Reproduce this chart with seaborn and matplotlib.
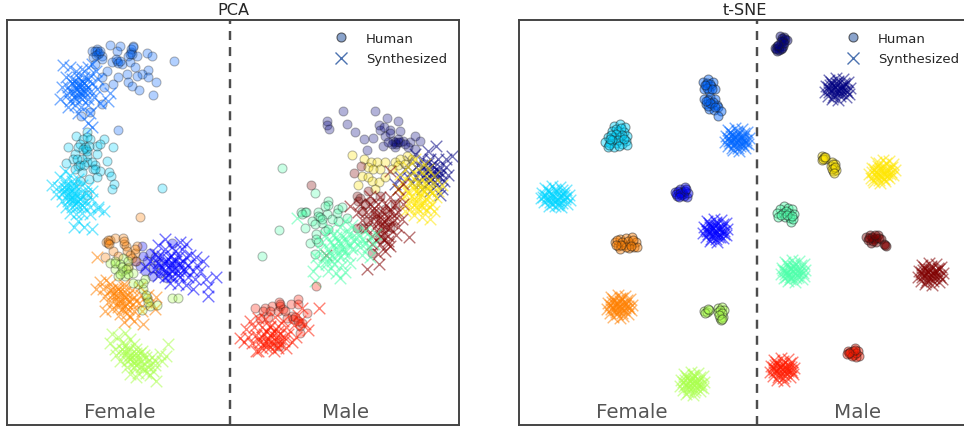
"""
Embeddings of human and synthesized samples (PCA and t-SNE).
Values are read off the picture, in image pixel units, since the axes have no scale.
"""
import matplotlib
matplotlib.use("Agg")
import matplotlib.pyplot as plt
from matplotlib.lines import Line2D
import seaborn as sns

COLORS = {
    "cyan": "#00d5ff", "azure": "#0066ff", "blue": "#0000ff", "orange": "#ff8000",
    "lime": "#aaff4d", "navy": "#000080", "gold": "#ffe600", "maroon": "#800000",
    "green": "#4dffaa", "red": "#ff1a00",
}
ORDER = ["cyan", "azure", "blue", "orange", "lime", "navy", "gold", "maroon", "green", "red"]

# PCA, human
pca_h_cyan = [(87,133),(76,137),(104,140),(68,148),(113,148),(83,140),(80,145),(90,140),(97,147),(100,145),(86,150),(78,148),(75,155),(87,157),(97,155),(73,160),(66,164),(78,167),(87,163),(95,166),(107,162),(75,170),(82,173),(93,170),(100,172),(109,173),(111,177),(89,180),(80,182),(97,178),(114,185),(112,190),(162,189),(87,196),(85,148),(87,152),(83,150),(82,160),(80,166),(84,166),(92,163),(95,170),(89,147),(77,160),(87,138)]
pca_h_azure = [(110,46),(120,47),(133,47),(147,54),(152,57),(174,62),(97,50),(92,52),(98,55),(93,58),(102,57),(117,52),(117,62),(112,63),(122,65),(131,53),(128,57),(137,57),(130,63),(135,68),(148,71),(142,75),(137,77),(148,78),(156,83),(127,75),(118,78),(128,83),(132,87),(139,91),(153,96),(113,85),(104,88),(102,78),(107,72),(95,65),(102,105),(90,113),(81,117),(118,131),(97,52),(99,54),(95,52),(96,56),(100,52),(116,60),(118,64),(120,62),(131,50),(132,55),(133,48),(130,55),(102,60)]
pca_h_blue = [(142,247),(172,244),(150,254),(143,257),(147,262),(140,267),(153,269),(160,274),(152,277),(167,279),(135,262),(145,272),(158,265),(155,258)]
pca_h_orange = [(106,243),(110,241),(115,239),(123,239),(124,245),(126,247),(135,254),(132,259),(105,258),(127,252),(113,252),(118,257),(137,247),(108,244),(140,218),(136,262),(128,268),(108,241),(109,245),(124,242),(135,250),(130,256)]
pca_h_lime = [(115,262),(110,264),(123,259),(128,269),(122,272),(115,270),(125,277),(133,274),(145,280),(143,290),(138,285),(150,307),(157,306),(142,311),(172,299),(178,299),(147,299),(133,284),(120,265),(128,262),(118,277),(115,264),(122,268),(126,270),(120,275),(128,275),(143,284),(146,296),(148,303)]
pca_h_navy = [(343,112),(375,112),(327,122),(327,126),(329,130),(347,125),(355,133),(364,140),(373,139),(367,151),(387,119),(398,122),(379,126),(380,131),(390,131),(400,132),(385,137),(393,142),(398,143),(403,142),(410,143),(415,137),(420,142),(408,148),(395,148),(383,147),(415,150),(396,145),(395,143),(400,143),(392,145),(398,140),(388,143),(405,145),(384,128),(390,134)]
pca_h_gold = [(352,156),(364,160),(371,163),(377,163),(385,163),(395,163),(368,168),(380,170),(362,177),(368,178),(358,186),(372,182),(379,183),(373,170),(400,160),(407,157),(392,170),(385,178),(398,166),(375,190),(405,165),(412,160)]
pca_h_maroon = [(311,186),(354,174),(361,167),(357,197),(368,192),(380,197),(358,202),(370,202),(372,254),(363,229),(357,229),(385,210),(375,215),(362,212),(395,205),(368,222),(390,228),(380,240),(360,199),(365,205)]
pca_h_green = [(282,169),(315,194),(328,202),(328,206),(305,213),(301,213),(318,213),(338,210),(279,231),(262,257),(305,229),(310,244),(318,243),(316,235),(315,255),(302,215),(318,217),(327,215),(337,214),(322,224),(328,230),(338,222),(347,219),(342,208),(332,220),(312,222),(325,207),(306,213),(320,218),(322,220),(315,225),(325,232),(316,240)]
pca_h_red = [(255,309),(265,309),(272,307),(279,303),(291,305),(298,300),(298,305),(307,314),(300,334),(279,347),(280,307),(263,312),(292,317),(302,324),(260,319),(293,320),(300,327),(287,319),(278,312),(283,310),(268,318),(316,287),(280,305),(285,312),(295,318),(298,322),(270,312)]

# PCA, synthesized
pca_s_cyan = [(65,172),(70,176),(60,178),(66,182),(72,182),(78,180),(52,186),(58,188),(64,188),(70,188),(76,187),(82,186),(88,188),(56,195),(62,195),(68,195),(74,194),(80,194),(86,194),(92,192),(62,202),(68,202),(74,200),(80,200),(86,202),(92,200),(98,208),(66,208),(72,208),(78,207),(84,208),(90,208),(98,210),(104,212),(70,214),(76,215),(82,214),(90,215),(78,222),(74,228),(84,228),(92,230),(66,190),(70,192),(72,198),(76,196),(68,198),(74,190),(78,202),(72,204),(64,192),(70,200),(76,204),(66,186),(80,198),(74,186),(82,206)]
pca_s_azure = [(63,66),(70,68),(76,72),(82,70),(88,68),(92,65),(66,78),(72,80),(78,78),(84,78),(90,76),(96,72),(62,88),(68,88),(74,86),(80,85),(86,86),(92,84),(98,80),(60,100),(67,96),(73,94),(79,92),(85,94),(91,92),(97,90),(70,102),(76,100),(82,100),(88,100),(94,98),(68,108),(75,106),(81,108),(88,106),(100,104),(108,102),(110,94),(78,114),(90,114),(88,124),(92,128),(72,84),(76,90),(80,88),(84,92),(78,96),(74,98),(82,82),(86,90),(76,82),(80,94),(84,84),(70,92),(78,86),(82,96),(88,80)]
pca_s_blue = [(165,240),(172,248),(180,243),(186,245),(158,246),(165,250),(175,252),(182,250),(190,256),(155,255),(162,257),(170,258),(178,258),(186,258),(196,258),(203,262),(150,262),(158,264),(165,264),(172,264),(180,264),(188,266),(197,266),(145,268),(155,270),(162,270),(170,270),(178,272),(185,272),(193,272),(200,272),(216,278),(158,277),(165,278),(172,277),(180,278),(188,278),(195,280),(206,280),(170,284),(178,285),(186,286),(193,290),(208,288),(208,297),(165,262),(170,266),(174,268),(168,260),(176,262),(162,268),(172,272),(180,268),(166,272),(174,260),(158,258),(184,270),(178,276),(168,276),(183,262)]
pca_s_orange = [(97,258),(100,283),(106,281),(110,285),(96,290),(103,290),(110,291),(117,288),(124,285),(105,297),(112,296),(118,294),(125,293),(132,291),(140,288),(108,303),(114,302),(120,300),(127,300),(134,298),(141,296),(148,296),(156,298),(105,312),(112,310),(118,308),(125,307),(132,306),(139,304),(146,303),(152,305),(120,315),(127,314),(134,312),(142,312),(124,323),(134,322),(143,325),(130,318),(155,310),(118,290),(122,294),(116,298),(124,298),(120,304),(128,296),(112,290),(126,304),(130,302),(122,310),(114,294),(118,304),(128,310),(136,302),(124,288)]
pca_s_lime = [(112,335),(125,334),(118,338),(110,344),(122,344),(130,340),(134,345),(115,350),(122,350),(128,350),(136,350),(142,352),(168,345),(116,356),(124,356),(130,356),(137,356),(144,356),(152,358),(160,355),(120,362),(127,362),(134,362),(141,362),(148,362),(155,362),(166,357),(127,368),(134,368),(141,368),(148,368),(155,366),(162,362),(130,375),(138,374),(146,374),(153,372),(136,378),(156,382),(150,376),(128,352),(132,358),(136,354),(130,360),(134,364),(138,360),(126,346),(124,352),(142,366),(146,358),(128,358),(136,366),(144,370),(140,354),(150,366)]
pca_s_navy = [(428,152),(436,147),(446,160),(452,157),(415,155),(422,160),(430,160),(438,160),(410,162),(418,166),(425,166),(432,166),(440,168),(446,168),(405,170),(412,172),(420,172),(427,172),(434,172),(441,174),(448,176),(400,178),(408,178),(416,178),(423,178),(430,178),(437,180),(444,182),(395,185),(412,184),(420,184),(428,184),(436,186),(442,190),(430,192),(422,190),(440,196),(426,170),(432,174),(436,176),(430,182),(424,176),(438,172),(434,168),(428,164),(440,178),(432,180),(422,168)]
pca_s_gold = [(415,160),(425,165),(408,168),(418,170),(428,170),(400,175),(410,176),(418,177),(426,177),(434,177),(402,183),(410,183),(418,184),(426,184),(434,184),(442,186),(398,190),(406,190),(414,190),(422,190),(430,191),(438,192),(404,197),(412,197),(420,197),(428,197),(436,198),(408,204),(416,204),(424,204),(432,205),(410,210),(418,210),(426,211),(434,212),(414,216),(422,218),(430,220),(405,212),(416,192),(420,194),(424,192),(418,200),(422,186),(426,200),(414,186),(428,188),(412,202),(420,206),(424,208),(416,208),(432,194),(408,194),(430,208)]
pca_s_maroon = [(390,172),(403,185),(398,190),(370,197),(380,198),(390,198),(400,198),(350,207),(360,205),(370,205),(378,205),(386,206),(395,206),(403,205),(358,213),(366,213),(374,213),(382,213),(390,213),(398,213),(362,221),(370,221),(378,221),(386,221),(394,221),(402,220),(366,229),(374,229),(382,229),(390,229),(398,228),(372,237),(380,237),(388,237),(396,236),(409,238),(380,245),(388,245),(390,247),(378,255),(385,252),(379,265),(367,270),(326,256),(372,245),(380,218),(384,222),(388,218),(382,226),(376,217),(386,228),(378,224),(392,224),(384,234),(388,242),(384,240),(380,232),(390,210),(374,209),(394,216)]
pca_s_green = [(297,219),(345,222),(352,226),(340,228),(330,230),(325,236),(333,236),(341,236),(349,235),(357,233),(365,232),(322,243),(330,243),(338,242),(346,243),(354,242),(362,240),(370,238),(376,235),(320,250),(328,250),(336,250),(344,250),(352,250),(360,248),(368,248),(374,245),(316,258),(324,258),(332,257),(340,258),(348,256),(362,256),(370,258),(318,266),(326,265),(334,265),(342,266),(350,264),(313,272),(328,272),(336,274),(345,273),(315,282),(340,279),(340,244),(346,240),(336,238),(342,250),(334,246),(350,246),(344,254),(338,254),(356,238),(348,232),(330,254),(326,262),(332,262),(360,244),(366,244)]
pca_s_red = [(319,309),(302,309),(298,316),(305,325),(308,331),(250,322),(258,319),(265,320),(275,318),(283,322),(246,330),(254,328),(262,328),(270,327),(278,327),(286,328),(294,326),(300,322),(240,339),(248,338),(256,336),(264,335),(272,335),(280,335),(288,335),(296,338),(244,343),(252,344),(260,343),(268,342),(276,342),(284,342),(292,343),(256,352),(262,349),(270,348),(278,349),(286,349),(258,352),(274,352),(268,345),(280,345),(266,332),(270,336),(274,332),(268,340),(262,338),(276,338),(272,344),(264,344),(280,340),(258,340),(278,332),(270,328),(284,338),(266,348),(276,346)]

# t-SNE, human
tsne_h_cyan = [(614,127),(620,125),(625,128),(612,132),(618,132),(624,133),(627,137),(608,138),(614,138),(620,138),(626,142),(605,143),(610,144),(616,144),(622,145),(627,146),(608,148),(614,148),(616,130),(621,129),(622,136),(616,135),(611,136),(618,141),(612,141),(624,140),(609,146),(619,147),(610,140)]
tsne_h_azure = [(703,83),(708,80),(713,83),(706,86),(711,87),(704,90),(709,92),(715,90),(704,100),(710,98),(715,100),(706,105),(712,105),(717,106),(709,110),(714,111),(718,108),(721,112),(718,117),(707,84),(710,85),(707,89),(712,90),(705,86),(708,101),(713,103),(708,107),(710,104),(715,108),(706,102)]
tsne_h_blue = [(675,193),(680,190),(685,188),(677,197),(683,195),(687,198),(682,193),(688,194),(678,192),(681,196),(685,192),(676,195),(684,197),(680,194),(686,190),(679,198)]
tsne_h_orange = [(615,243),(620,240),(626,239),(632,238),(618,247),(624,246),(630,245),(636,243),(620,250),(629,249),(634,248),(637,248),(617,241),(622,243),(628,242),(633,241),(626,248),(631,247),(621,246),(616,246)]
tsne_h_lime = [(704,312),(707,313),(709,311),(718,309),(722,308),(724,311),(718,313),(720,319),(723,318),(721,321),(705,314),(708,310),(720,311),(722,314),(719,316),(722,320)]
tsne_h_navy = [(780,37),(784,38),(787,41),(783,42),(779,48),(775,49),(781,50),(777,52),(783,47),(782,39),(785,40),(781,42),(777,47),(779,51),(776,50),(782,49),(784,44),(778,46)]
tsne_h_gold = [(822,157),(825,160),(822,161),(832,163),(835,165),(831,167),(833,172),(836,171),(834,169),(824,158),(823,160),(833,165),(832,170),(835,168),(825,158),(834,174)]
tsne_h_maroon = [(866,238),(870,236),(874,240),(878,236),(881,240),(871,244),(876,243),(884,245),(886,247),(868,241),(872,238),(876,239),(873,242),(869,239),(879,239),(885,246),(875,236)]
tsne_h_green = [(784,207),(788,209),(780,210),(792,210),(777,214),(783,214),(789,214),(794,215),(778,218),(785,218),(790,219),(791,223),(793,220),(786,212),(781,216),(787,216),(792,217)]
tsne_h_red = [(848,352),(851,355),(855,349),(858,352),(854,356),(859,357),(856,358),(847,355),(850,353),(853,352),(856,354),(852,357),(855,351),(849,354)]

# t-SNE, synthesized
tsne_s_cyan = [(545,189),(552,187),(560,188),(566,191),(542,194),(549,193),(556,192),(563,194),(569,196),(541,199),(547,198),(553,197),(559,198),(565,200),(570,201),(544,203),(550,203),(556,202),(562,204),(567,205),(549,207),(555,207),(561,208),(552,195),(558,201),(548,191),(555,190),(562,191),(545,196),(551,199),(557,195),(561,197),(547,201),(553,201),(559,204),(564,196),(543,198),(566,198),(552,205),(558,206)]
tsne_s_azure = [(728,131),(735,129),(742,130),(747,133),(726,137),(732,135),(738,135),(744,137),(749,139),(725,143),(731,141),(737,140),(743,142),(748,145),(728,147),(734,146),(740,147),(745,149),(733,151),(739,152),(730,144),(736,143),(741,138),(734,138),(730,133),(737,132),(744,134),(728,139),(734,140),(740,141),(746,141),(731,137),(737,137),(743,140),(729,142),(735,144),(741,144),(746,144),(732,149),(738,149),(743,146)]
tsne_s_blue = [(707,222),(714,220),(721,221),(726,224),(704,228),(710,226),(716,226),(722,228),(727,230),(703,234),(709,232),(715,231),(721,233),(726,236),(706,238),(712,237),(718,238),(723,239),(710,242),(717,243),(708,235),(713,229),(719,235),(716,240),(709,224),(716,223),(723,225),(706,230),(712,231),(718,229),(724,232),(710,228),(715,234),(721,230),(707,232),(713,235),(720,238),(724,235),(711,240),(714,226)]
tsne_s_orange = [(611,298),(618,296),(625,297),(630,300),(608,304),(614,302),(620,302),(626,304),(632,306),(607,310),(613,308),(619,307),(625,309),(631,311),(610,314),(616,313),(622,314),(628,315),(613,318),(620,319),(625,306),(617,310),(622,299),(615,305),(613,300),(620,299),(627,301),(610,306),(616,307),(622,305),(628,307),(612,303),(618,304),(624,311),(611,310),(617,315),(623,317),(629,309),(615,311),(621,310)]
tsne_s_lime = [(684,375),(691,373),(698,374),(703,377),(681,381),(687,379),(693,379),(699,381),(704,383),(680,387),(686,385),(692,384),(698,386),(703,389),(683,391),(689,390),(695,391),(700,392),(686,395),(693,396),(690,382),(696,388),(688,388),(694,376),(686,377),(693,376),(700,378),(683,383),(689,384),(695,382),(701,385),(685,381),(691,380),(697,383),(684,387),(690,387),(696,385),(701,388),(688,393),(694,393)]
tsne_s_navy = [(829,81),(836,79),(843,80),(848,83),(826,87),(832,85),(838,85),(844,87),(850,89),(825,93),(831,91),(837,90),(843,92),(849,95),(828,97),(834,96),(840,97),(846,98),(832,100),(838,101),(835,88),(841,94),(829,90),(844,84),(831,83),(838,82),(845,85),(828,88),(834,90),(840,89),(846,91),(830,86),(836,84),(842,88),(829,93),(835,93),(841,91),(847,93),(833,98),(839,94)]
tsne_s_gold = [(876,163),(883,161),(889,162),(893,165),(872,169),(878,167),(884,167),(890,169),(895,171),(869,175),(875,173),(881,172),(887,174),(893,176),(871,179),(877,178),(883,179),(889,179),(874,183),(880,184),(885,182),(884,175),(878,171),(891,173),(879,164),(886,164),(874,170),(880,169),(886,171),(892,168),(872,173),(878,175),(884,172),(890,175),(875,176),(881,177),(887,177),(873,181),(879,181),(884,180)]
tsne_s_maroon = [(922,266),(929,264),(936,265),(941,268),(919,272),(925,270),(931,270),(937,272),(943,274),(918,278),(924,276),(930,275),(936,277),(942,280),(921,282),(927,281),(933,282),(939,283),(925,285),(932,286),(928,273),(934,279),(922,275),(939,270),(924,268),(931,267),(938,269),(921,273),(927,275),(933,274),(939,276),(923,271),(929,270),(935,272),(922,278),(928,278),(934,276),(940,278),(926,283),(931,280)]
tsne_s_green = [(785,263),(792,261),(799,262),(804,265),(782,269),(788,267),(794,267),(800,269),(805,271),(781,275),(787,273),(793,272),(799,274),(804,277),(784,279),(790,278),(796,279),(802,280),(788,282),(795,283),(791,270),(797,276),(785,272),(801,266),(787,265),(794,264),(783,271),(789,270),(795,269),(801,272),(785,275),(791,275),(797,273),(803,274),(786,278),(792,278),(798,278),(790,280),(793,267),(788,276)]
tsne_s_red = [(774,361),(781,359),(788,360),(792,363),(771,367),(777,365),(783,365),(789,367),(794,369),(770,373),(776,371),(782,370),(788,372),(793,375),(773,377),(779,376),(785,377),(790,378),(777,381),(784,382),(780,368),(786,374),(774,370),(791,371),(776,363),(783,362),(790,364),(773,368),(779,370),(785,368),(791,368),(775,366),(781,367),(787,370),(774,373),(780,373),(786,371),(792,373),(778,378),(783,379)]

pca_human = [pca_h_cyan, pca_h_azure, pca_h_blue, pca_h_orange, pca_h_lime, pca_h_navy, pca_h_gold, pca_h_maroon, pca_h_green, pca_h_red]
pca_synth = [pca_s_cyan, pca_s_azure, pca_s_blue, pca_s_orange, pca_s_lime, pca_s_navy, pca_s_gold, pca_s_maroon, pca_s_green, pca_s_red]
tsne_human = [tsne_h_cyan, tsne_h_azure, tsne_h_blue, tsne_h_orange, tsne_h_lime, tsne_h_navy, tsne_h_gold, tsne_h_maroon, tsne_h_green, tsne_h_red]
tsne_synth = [tsne_s_cyan, tsne_s_azure, tsne_s_blue, tsne_s_orange, tsne_s_lime, tsne_s_navy, tsne_s_gold, tsne_s_maroon, tsne_s_green, tsne_s_red]

W, H = 964, 427


def draw_panel(rect, xlim, split, female_x, male_x, title, human, synth, human_alpha):
    l, r, t, b = rect
    ax = fig.add_axes([l / W, 1 - b / H, (r - l) / W, (b - t) / H])
    for name, h_pts, s_pts in zip(ORDER, human, synth):
        sns.scatterplot(x=[p[0] for p in h_pts], y=[p[1] for p in h_pts], color=COLORS[name],
                        edgecolor="k", alpha=human_alpha, s=42, linewidth=0.8, ax=ax)
        sns.scatterplot(x=[p[0] for p in s_pts], y=[p[1] for p in s_pts], color=COLORS[name],
                        marker="x", alpha=0.55, s=70, linewidth=1, ax=ax)
    ax.axvline(split, color="#4d4d4d", linestyle=(0, (3.7, 2.9)), linewidth=1.75)
    ax.set_xlim(*xlim)
    ax.set_ylim(b, t)
    ax.set_xticks([])
    ax.set_yticks([])
    ax.text(female_x, 418, "Female", ha="center", va="baseline", fontsize=14.3, color="#555555")
    ax.text(male_x, 418, "Male", ha="center", va="baseline", fontsize=14.3, color="#555555")
    ax.set_title(title, fontsize=11.6, pad=4.5, color="#262626")
    handles = [
        Line2D([], [], linestyle="", marker="o", markersize=6.5, markerfacecolor="#4c72b0",
               markeredgecolor="k", markeredgewidth=0.8, alpha=0.65, label="Human"),
        Line2D([], [], linestyle="", marker="x", markersize=8.3, color="#4c72b0",
               markeredgewidth=1, label="Synthesized"),
    ]
    ax.legend(handles=handles, frameon=False, loc="upper right", fontsize=9.5,
              labelspacing=0.55, handletextpad=0.9, borderaxespad=0.5)
    return ax


sns.set_theme(style="white")
plt.rcParams["font.family"] = "DejaVu Sans"
plt.rcParams["axes.edgecolor"] = "#444444"
plt.rcParams["axes.linewidth"] = 1.4

fig = plt.figure(figsize=(W / 100, H / 100), dpi=100)
draw_panel((7, 459, 21, 426), (7, 459), 229.5, 120, 346, "PCA", pca_human, pca_synth, 0.3)
draw_panel((519, 971, 21, 426), (519, 971), 756.5, 632, 858, "t-SNE", tsne_human, tsne_synth, 0.45)
fig.savefig("out.png", dpi=100)
